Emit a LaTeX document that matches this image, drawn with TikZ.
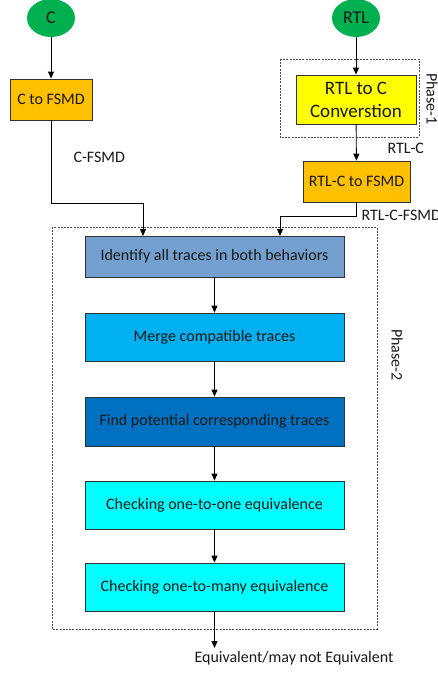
\documentclass[tikz,border=0pt]{standalone}
\usepackage{fontspec}
\setmainfont{Carlito}
\usetikzlibrary{arrows.meta,calc,shapes.geometric}
\definecolor{startgreen}{HTML}{00B050}
\definecolor{fsmdorange}{HTML}{FFC000}
\definecolor{convyellow}{HTML}{FFFF00}
\definecolor{steelblue}{HTML}{74A0CF}
\definecolor{skyblue}{HTML}{00B0F0}
\definecolor{deepblue}{HTML}{0070C0}
\definecolor{aqua}{HTML}{00FFFF}
\begin{document}
\begin{tikzpicture}[x=1pt,y=-1pt,
  every node/.style={font=\fontsize{16}{18}\selectfont, text=black!90},
  term/.style={ellipse, fill=startgreen, minimum width=48pt, minimum height=38pt, inner sep=0pt, font=\fontsize{18}{20}\selectfont},
  procbox/.style={draw=black!80, line width=0.8pt, inner sep=0pt},
  phase/.style={draw=black!70, dashed, dash pattern=on 2pt off 1.2pt, line width=0.5pt},
  link/.style={draw=black, line width=0.9pt},
  arr/.style={link, -{Triangle[length=7pt,width=6pt]}}
]
\useasboundingbox (0,0) rectangle (438,674);
% sources
\node[term] (c) at (51,18) {C};
\node[term] (rtl) at (356,18) {RTL};
% left branch
\node[procbox, fill=fsmdorange, minimum width=82pt, minimum height=41pt] (cfsmd) at (51,99.5) {C to FSMD};
\node[anchor=west] (lblcf) at (70,157) {C-FSMD};
% right branch
\draw[phase] (280,59) rectangle (419,137);
\node[procbox, fill=convyellow, minimum width=120pt, minimum height=49pt, align=center, font=\fontsize{19}{23}\selectfont] (rtlc) at (356,99.5) {RTL to C\\Converstion};
\node[rotate=-90] (ph1) at (432,99) {Phase-1};
\node[anchor=west] (lblrc) at (384,148) {RTL-C};
\node[procbox, fill=fsmdorange, minimum width=107pt, minimum height=41pt] (rcfsmd) at (356.5,181.5) {RTL-C to FSMD};
\node[anchor=west] (lblrcf) at (358,215) {RTL-C-FSMD};
% phase 2
\draw[phase] (52,227) rectangle (377,629);
\node[rotate=-90] (ph2) at (397,355) {Phase-2};
\node[procbox, fill=steelblue, minimum width=259pt, minimum height=41pt] (ident) at (214.5,256.5) {Identify all traces in both behaviors};
\node[procbox, fill=skyblue, minimum width=259pt, minimum height=48pt] (merge) at (214.5,337) {Merge compatible traces};
\node[procbox, fill=deepblue, minimum width=259pt, minimum height=49pt] (find) at (214.5,421.5) {Find potential corresponding traces};
\node[procbox, fill=aqua, minimum width=259pt, minimum height=48pt] (one) at (214.5,505) {Checking one-to-one equivalence};
\node[procbox, fill=aqua, minimum width=259pt, minimum height=48pt] (many) at (214.5,587) {Checking one-to-many equivalence};
\node[anchor=west] (result) at (191,658) {Equivalent/may not Equivalent};
\coordinate (resin) at (214.5,648);
% connectors
\draw[arr] (c) -- (cfsmd);
\draw[arr] (rtl) -- (rtlc);
\draw[arr] (rtlc) -- (rcfsmd);
\coordinate (lin) at (143,236);
\coordinate (rin) at (280,236);
\draw[arr] (cfsmd.south) -- (cfsmd.south |- 0,203) -| (lin);
\draw[arr] (rcfsmd.south) -- (rcfsmd.south |- 0,216) -| (rin);
\draw[arr] (ident) -- (merge);
\draw[arr] (merge) -- (find);
\draw[arr] (find) -- (one);
\draw[arr] (one) -- (many);
\draw[arr] (many) -- (resin);
\end{tikzpicture}
\end{document}
